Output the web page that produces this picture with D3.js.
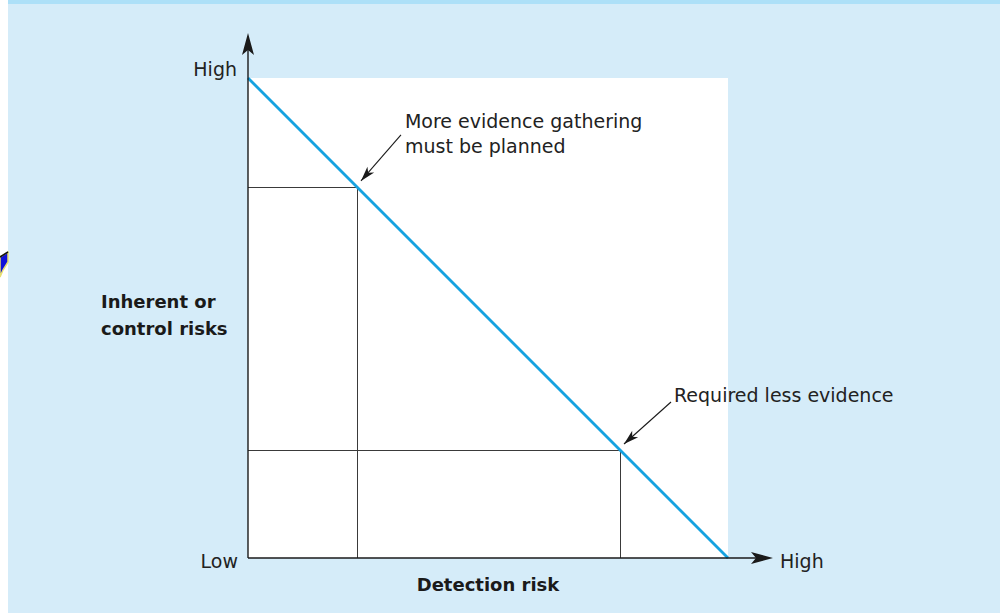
<!DOCTYPE html>
<html><head><meta charset="utf-8">
<script src="https://cdn.jsdelivr.net/npm/d3@7"></script>
<style>html,body{margin:0;padding:0;background:#fff;}svg{display:block;}</style>
</head><body>
<script>
// ---- data ----
const endLabels = ["Low", "High"];
const xTitle = "Detection risk";
const yTitleLines = ["Inherent or", "control risks"];
// line: inherent/control risk vs detection risk (0 = low, 1 = high)
const lineDetection = [0, 1];
const lineInherent = [1, 0];
// highlighted points on the line
const pointDetection = [0.227, 0.775];
const pointInherent = [0.773, 0.225];
const pointNotes = [["More evidence gathering", "must be planned"], ["Required less evidence"]];

const W = 1001, H = 613;
const svg = d3.select("body").append("svg").attr("width", W).attr("height", H);
const font = "'DejaVu Sans', sans-serif";

// background
svg.append("rect").attr("x", 0).attr("y", 0).attr("width", W).attr("height", H).attr("fill", "#ffffff");
svg.append("rect").attr("x", 8).attr("y", 0).attr("width", W - 9).attr("height", H).attr("fill", "#d5ecf9");
svg.append("rect").attr("x", 8).attr("y", 0).attr("width", W - 9).attr("height", 4).attr("fill", "#ade0f8");
// small cropped graphic on left edge
svg.append("path").attr("d", "M0,257 L8,252 L8,262 L3,270 L0,277 Z")
  .attr("fill", "#1212d8").attr("stroke", "#e8e070").attr("stroke-width", 1.5);
svg.append("path").attr("d", "M0,257 L8,252").attr("stroke", "#111").attr("stroke-width", 1.5);

const x = d3.scaleLinear().domain([0, 1]).range([248, 728]);
const y = d3.scaleLinear().domain([0, 1]).range([558, 78]);

// white plot area
svg.append("rect").attr("x", x(0)).attr("y", y(1)).attr("width", x(1) - x(0)).attr("height", y(0) - y(1)).attr("fill", "#fff");

// guide lines
const g = svg.append("g").attr("stroke", "#3a3a3a").attr("stroke-width", 1).attr("fill", "none");
pointDetection.forEach((d, i) => {
  const px = Math.round(x(d)) + 0.5, py = Math.round(y(pointInherent[i])) + 0.5;
  g.append("line").attr("x1", px).attr("x2", px).attr("y1", py).attr("y2", y(0));
  g.append("line").attr("x1", x(0)).attr("x2", px).attr("y1", py).attr("y2", py);
});

// diagonal
const lineData = lineDetection.map((d, i) => [d, lineInherent[i]]);
svg.append("path").datum(lineData)
  .attr("d", d3.line().x(d => x(d[0])).y(d => y(d[1])))
  .attr("stroke", "#16a2e0").attr("stroke-width", 2.8).attr("fill", "none");

// axes
svg.append("line").attr("x1", x(0)).attr("x2", 760).attr("y1", y(0)).attr("y2", y(0)).attr("stroke", "#1a1a1a").attr("stroke-width", 1.4);
svg.append("line").attr("x1", x(0)).attr("x2", x(0)).attr("y1", y(0)).attr("y2", 45).attr("stroke", "#1a1a1a").attr("stroke-width", 1.4);
// arrowheads
const xa = 773, ya = y(0);
svg.append("path").attr("d", `M${xa},${ya} L${xa-22},${ya-6} L${xa-17},${ya} L${xa-22},${ya+6} Z`).attr("fill", "#1a1a1a");
const xb = x(0), yb = 33;
svg.append("path").attr("d", `M${xb},${yb} L${xb-6},${yb+22} L${xb},${yb+17} L${xb+6},${yb+22} Z`).attr("fill", "#1a1a1a");

// end labels
svg.append("text").attr("x", 237).attr("y", 76).attr("text-anchor", "end").text(endLabels[1]);
svg.append("text").attr("x", 238).attr("y", 568).attr("text-anchor", "end").text(endLabels[0]);
svg.append("text").attr("x", 780).attr("y", 568).attr("text-anchor", "start").text(endLabels[1]);
svg.selectAll("text").attr("font-family", font).attr("font-size", 19).attr("fill", "#222");

// axis titles
svg.append("text").attr("x", 488).attr("y", 591).attr("text-anchor", "middle")
  .attr("font-family", font).attr("font-size", 18).attr("font-weight", "bold").attr("fill", "#1a1a1a").text(xTitle);
yTitleLines.forEach((t, i) => {
  svg.append("text").attr("x", 101).attr("y", 308 + i * 27)
    .attr("font-family", font).attr("font-size", 18).attr("font-weight", "bold").attr("fill", "#1a1a1a").text(t);
});

// annotations
const noteOffsets = [{tx: 48, ty: -59, ax: 44, ay: -52}, {tx: 54, ty: -48, ax: 51, ay: -48}];
pointDetection.forEach((d, i) => {
  const px = x(d), py = y(pointInherent[i]);
  const o = noteOffsets[i];
  pointNotes[i].forEach((t, j) => {
    svg.append("text").attr("x", px + o.tx).attr("y", py + o.ty + j * 25)
      .attr("font-family", font).attr("font-size", 19).attr("fill", "#222").text(t);
  });
  const sx = px + o.ax, sy = py + o.ay;
  const ex = px + 4, ey = py - 6;
  svg.append("line").attr("x1", sx).attr("y1", sy).attr("x2", ex).attr("y2", ey).attr("stroke", "#1a1a1a").attr("stroke-width", 1.1);
  const ang = Math.atan2(ey - sy, ex - sx);
  const L = 15, Wd = 4.5;
  const bx = ex - L * Math.cos(ang), by = ey - L * Math.sin(ang);
  const nx = -Math.sin(ang) * Wd, ny = Math.cos(ang) * Wd;
  svg.append("path").attr("d", `M${ex},${ey} L${bx+nx},${by+ny} L${ex - 11*Math.cos(ang)},${ey - 11*Math.sin(ang)} L${bx-nx},${by-ny} Z`).attr("fill", "#1a1a1a");
});
</script>
</body></html>
